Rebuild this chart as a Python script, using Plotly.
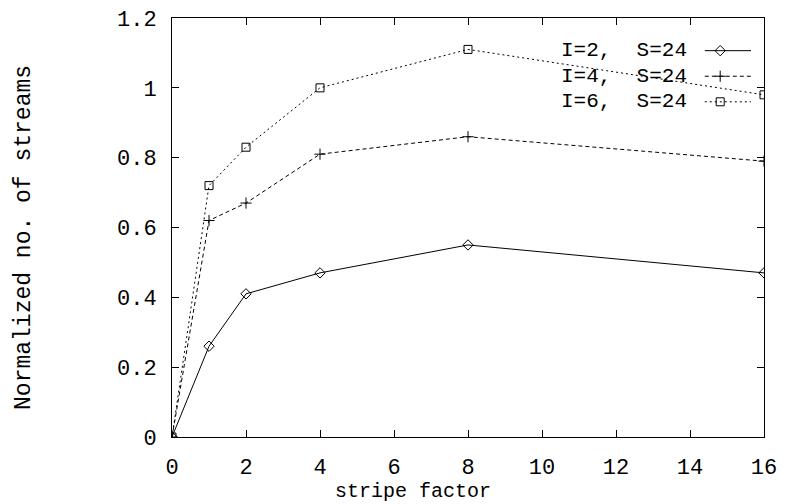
import plotly.graph_objects as go

stripe = [0, 1, 2, 4, 8, 16]
i2 = [0, 0.26, 0.41, 0.47, 0.55, 0.47]
i4 = [0, 0.62, 0.67, 0.81, 0.86, 0.79]
i6 = [0, 0.72, 0.83, 1.0, 1.11, 0.98]
names = ["I=2,  S=24", "I=4,  S=24", "I=6,  S=24"]
symbols = ["diamond-open", "cross-thin-open", "square-open"]
dashes = ["solid", "4px,3px", "2px,3px"]
series = [i2, i4, i6]
xticks = list(range(0, 17, 2))
yticks = [0, 0.2, 0.4, 0.6, 0.8, 1, 1.2]
yticklabels = ["0", "0.2", "0.4", "0.6", "0.8", "1", "1.2"]

FONT = "Liberation Mono"
fig = go.Figure()
for ys, nm, sym, d in zip(series, names, symbols, dashes):
    fig.add_trace(go.Scatter(x=stripe, y=ys, mode="lines+markers", name=nm,
                             line=dict(color="black", width=1, dash=d),
                             marker=dict(symbol=sym, size=8, color="black",
                                         line=dict(color="black", width=1)),
                             showlegend=False))

# legend (gnuplot style: text left, sample right)
leg_y = [0.922, 0.861, 0.800]
for k, (nm, sym, d) in enumerate(zip(names, symbols, dashes)):
    fig.add_annotation(x=0.874, y=leg_y[k], xref="paper", yref="paper", text=nm,
                       showarrow=False, xanchor="right", yanchor="middle",
                       font=dict(family=FONT, size=21, color="black"))
    fig.add_shape(type="line", xref="paper", yref="paper", x0=0.9, x1=0.978,
                  y0=leg_y[k], y1=leg_y[k], line=dict(color="black", width=1, dash=d))
    fig.add_trace(go.Scatter(x=[0.926], y=[leg_y[k]], xaxis="x2", yaxis="y2",
                             mode="markers", showlegend=False, hoverinfo="skip",
                             marker=dict(symbol=sym, size=8, color="black",
                                         line=dict(color="black", width=1))))

fig.add_annotation(x=0.407, y=-0.131, xref="paper", yref="paper", text="stripe factor",
                   showarrow=False, xanchor="center", yanchor="middle",
                   font=dict(family=FONT, size=20, color="black"))
fig.add_annotation(x=-0.25, y=0.475, xref="paper", yref="paper",
                   text="Normalized no. of streams", textangle=-90,
                   showarrow=False, xanchor="center", yanchor="middle",
                   font=dict(family=FONT, size=23, color="black"))

axis_common = dict(showgrid=False, zeroline=False, showline=True, linecolor="black",
                   linewidth=1, mirror="ticks", ticks="inside", ticklen=7,
                   tickcolor="black", automargin=False, ticklabelstandoff=10,
                   ticklabeloverflow="allow",
                   tickfont=dict(family=FONT, size=22, color="black"))
# page body has an 8px margin: compensate so the plot area lands at 172..764 x ~18..437
fig.update_layout(
    width=788, height=504,
    margin=dict(l=164, r=32, t=10, b=75),
    paper_bgcolor="white", plot_bgcolor="white",
    xaxis=dict(range=[0, 16], tickvals=xticks, **axis_common),
    yaxis=dict(range=[0, 1.2], tickvals=yticks, ticktext=yticklabels, **axis_common),
    xaxis2=dict(range=[0, 1], overlaying="x", visible=False),
    yaxis2=dict(range=[0, 1], overlaying="y", visible=False),
)
fig.write_html("out.html")
